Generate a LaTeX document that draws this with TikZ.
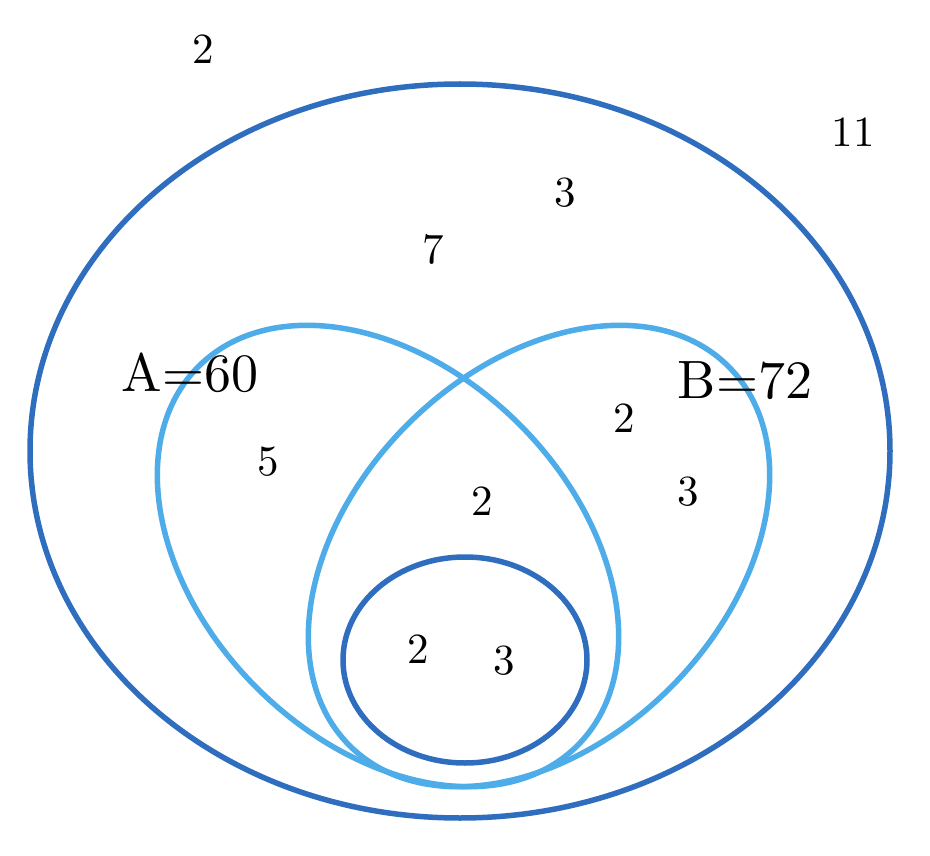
\documentclass[tikz,border=0pt]{standalone}
\usepackage{fontspec}
\definecolor{darkb}{HTML}{2F6EBE}
\definecolor{lightb}{HTML}{4EACE8}
\begin{document}
\begin{tikzpicture}[x=1pt,y=-1pt,
  outerline/.style={draw=darkb,line width=5.5pt},
  leafline/.style={draw=lightb,line width=5.5pt},
  num/.style={inner sep=0pt,font=\fontsize{10}{12}\selectfont,scale=4.3,transform shape},
  setlabel/.style={inner sep=0pt,font=\fontsize{10}{12}\selectfont,scale=5.4,transform shape}]
\useasboundingbox[fill=white] (0,0) rectangle (930,856);
% universe
\coordinate (U) at (460,451);
\draw[outerline] (U) ellipse [x radius=430pt, y radius=367pt];
% A and B
\coordinate (Ac) at (388,556);
\coordinate (Bc) at (539,556);
\draw[leafline, rotate around={-45:(Ac)}] (Ac) ellipse [x radius=268pt, y radius=186pt];
\draw[leafline, rotate around={45:(Bc)}] (Bc) ellipse [x radius=268pt, y radius=186pt];
% inner
\coordinate (C) at (465,660);
\draw[outerline] (C) ellipse [x radius=122pt, y radius=103pt];
% labels
\node[setlabel] (la) at (190,373) {A=60};
\node[setlabel] (lb) at (745,381) {B=72};
\node[num] (n1) at (203,49) {2};
\node[num] (n2) at (853,132) {11};
\node[num] (n3) at (565,193) {3};
\node[num] (n4) at (433,249) {7};
\node[num] (n5) at (268,462) {5};
\node[num] (n6) at (624,418) {2};
\node[num] (n7) at (482,501) {2};
\node[num] (n8) at (688,492) {3};
\node[num] (n9) at (418,649) {2};
\node[num] (n10) at (504,661) {3};
\end{tikzpicture}
\end{document}
